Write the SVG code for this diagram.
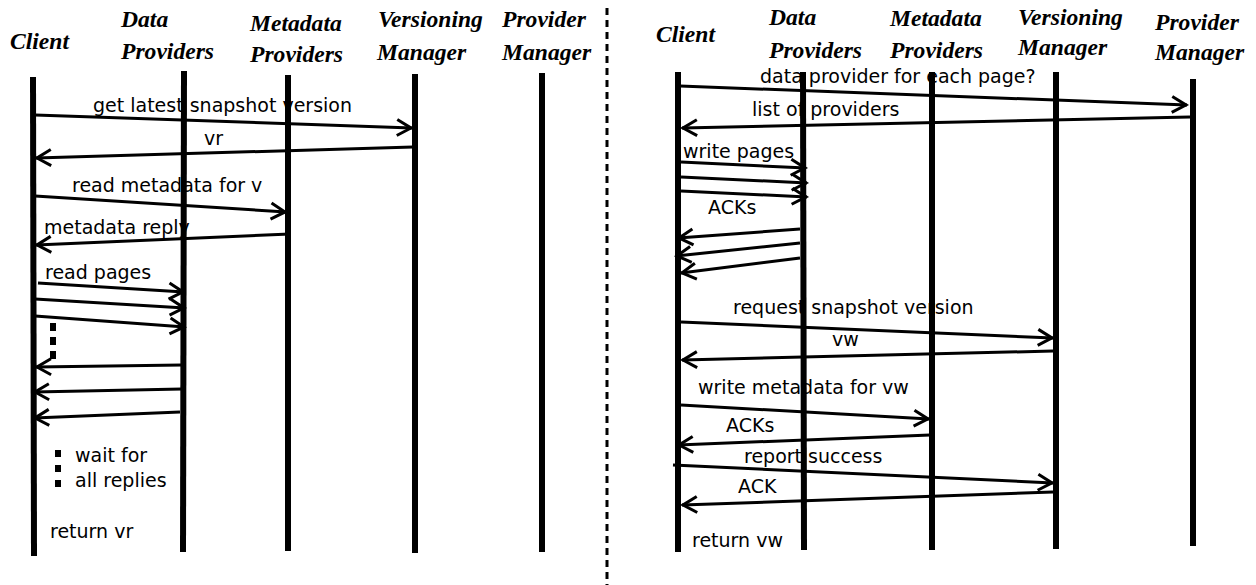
<svg xmlns="http://www.w3.org/2000/svg" width="1256" height="585" viewBox="0 0 1256 585">
<style>
.hd{font-family:"Liberation Serif","Times New Roman",serif;font-weight:bold;font-style:italic;font-size:23.6px;fill:#000}
.lb{font-family:"DejaVu Sans",Verdana,sans-serif;font-size:19px;fill:#000}
.life{stroke:#000;stroke-width:6;fill:none}
.msg{stroke:#000;stroke-width:3;fill:none;marker-end:url(#ah)}
.dots{stroke:#000;stroke-width:6;stroke-dasharray:8,6;fill:none}
</style>
<defs>
<marker id="ah" markerUnits="userSpaceOnUse" markerWidth="30" markerHeight="30" refX="1" refY="0" viewBox="-20 -15 30 30" orient="auto" overflow="visible">
<path d="M-14,-8 L0,0 L-14,8" stroke="#000" stroke-width="3" fill="none"/>
</marker>
</defs>
<rect width="1256" height="585" fill="#fff"/>
<line x1="607" y1="8" x2="607" y2="585" stroke="#000" stroke-width="3" stroke-dasharray="7,5"/>
<g id="connectors">
<text class="lb" x="93" y="112">get latest snapshot version</text>
<line class="msg" x1="35" y1="115" x2="412" y2="128"/>
<text class="lb" x="204" y="145">vr</text>
<line class="msg" x1="413" y1="147" x2="36" y2="158"/>
<text class="lb" x="72" y="192">read metadata for v</text>
<line class="msg" x1="35" y1="196" x2="286" y2="212"/>
<text class="lb" x="44" y="234">metadata reply</text>
<line class="msg" x1="290" y1="234" x2="36" y2="245"/>
<text class="lb" x="45" y="279">read pages</text>
<line class="msg" x1="38" y1="283" x2="184" y2="292"/>
<line class="msg" x1="35" y1="299" x2="185" y2="308"/>
<line class="msg" x1="35" y1="316" x2="185" y2="327"/>
<line class="dots" x1="53" y1="323" x2="53" y2="359"/>
<line class="msg" x1="182" y1="365" x2="36" y2="367"/>
<line class="msg" x1="182" y1="389" x2="34" y2="392"/>
<line class="msg" x1="180" y1="412" x2="34" y2="418"/>
<line class="dots" x1="58" y1="450" x2="58" y2="490" style="stroke-dasharray:7,8"/>
<text class="lb" x="75" y="462">wait for</text>
<text class="lb" x="75" y="487">all replies</text>
<text class="lb" x="50" y="538">return vr</text>

<text class="lb" x="760" y="83">data provider for each page?</text>
<line class="msg" x1="680" y1="86" x2="1187" y2="105"/>
<text class="lb" x="752" y="116">list of providers</text>
<line class="msg" x1="1190" y1="117" x2="682" y2="128"/>
<text class="lb" x="683" y="158">write pages</text>
<line class="msg" x1="681" y1="162" x2="806" y2="168"/>
<line class="msg" x1="681" y1="177" x2="807" y2="183"/>
<line class="msg" x1="681" y1="191" x2="807" y2="197"/>
<text class="lb" x="708" y="214">ACKs</text>
<line class="msg" x1="800" y1="229" x2="678" y2="238"/>
<line class="msg" x1="800" y1="243" x2="676" y2="256"/>
<line class="msg" x1="800" y1="258" x2="681" y2="273"/>
<text class="lb" x="733" y="314">request snapshot version</text>
<line class="msg" x1="681" y1="322" x2="1053" y2="338"/>
<text class="lb" x="832" y="346">vw</text>
<line class="msg" x1="1053" y1="351" x2="682" y2="360"/>
<text class="lb" x="698" y="394">write metadata for vw</text>
<line class="msg" x1="681" y1="405" x2="929" y2="419"/>
<text class="lb" x="726" y="432">ACKs</text>
<line class="msg" x1="930" y1="435" x2="678" y2="445"/>
<text class="lb" x="744" y="463">report success</text>
<line class="msg" x1="673" y1="465" x2="1053" y2="483"/>
<text class="lb" x="738" y="493">ACK</text>
<line class="msg" x1="1053" y1="492" x2="682" y2="505"/>
<text class="lb" x="692" y="547">return vw</text>
</g>
<g id="l-client">
<text class="hd" x="10" y="49">Client</text>
<line class="life" x1="33" y1="77" x2="34" y2="556"/>
</g>
<g id="l-data">
<text class="hd" x="121" y="27">Data</text>
<text class="hd" x="121" y="59">Providers</text>
<line class="life" x1="184" y1="71" x2="183" y2="552"/>
</g>
<g id="l-meta">
<text class="hd" x="250" y="31">Metadata</text>
<text class="hd" x="250" y="62">Providers</text>
<line class="life" x1="288" y1="75" x2="288" y2="551"/>
</g>
<g id="l-ver">
<text class="hd" x="378" y="27">Versioning</text>
<text class="hd" x="377" y="60">Manager</text>
<line class="life" x1="415" y1="74" x2="415" y2="553"/>
</g>
<g id="l-prov">
<text class="hd" x="502" y="27">Provider</text>
<text class="hd" x="502" y="60">Manager</text>
<line class="life" x1="542" y1="73" x2="542" y2="552"/>
</g>
<g id="r-client">
<text class="hd" x="656" y="42">Client</text>
<line class="life" x1="678" y1="72" x2="678" y2="552"/>
</g>
<g id="r-data">
<text class="hd" x="769" y="25">Data</text>
<text class="hd" x="769" y="58">Providers</text>
<line class="life" x1="803" y1="72" x2="804" y2="550"/>
</g>
<g id="r-meta">
<text class="hd" x="890" y="26">Metadata</text>
<text class="hd" x="890" y="58">Providers</text>
<line class="life" x1="932" y1="72" x2="932" y2="550"/>
</g>
<g id="r-ver">
<text class="hd" x="1018" y="25">Versioning</text>
<text class="hd" x="1018" y="55">Manager</text>
<line class="life" x1="1056" y1="72" x2="1056" y2="549"/>
</g>
<g id="r-prov">
<text class="hd" x="1155" y="30">Provider</text>
<text class="hd" x="1155" y="60">Manager</text>
<line class="life" x1="1193" y1="79" x2="1193" y2="546"/>
</g>
</svg>
